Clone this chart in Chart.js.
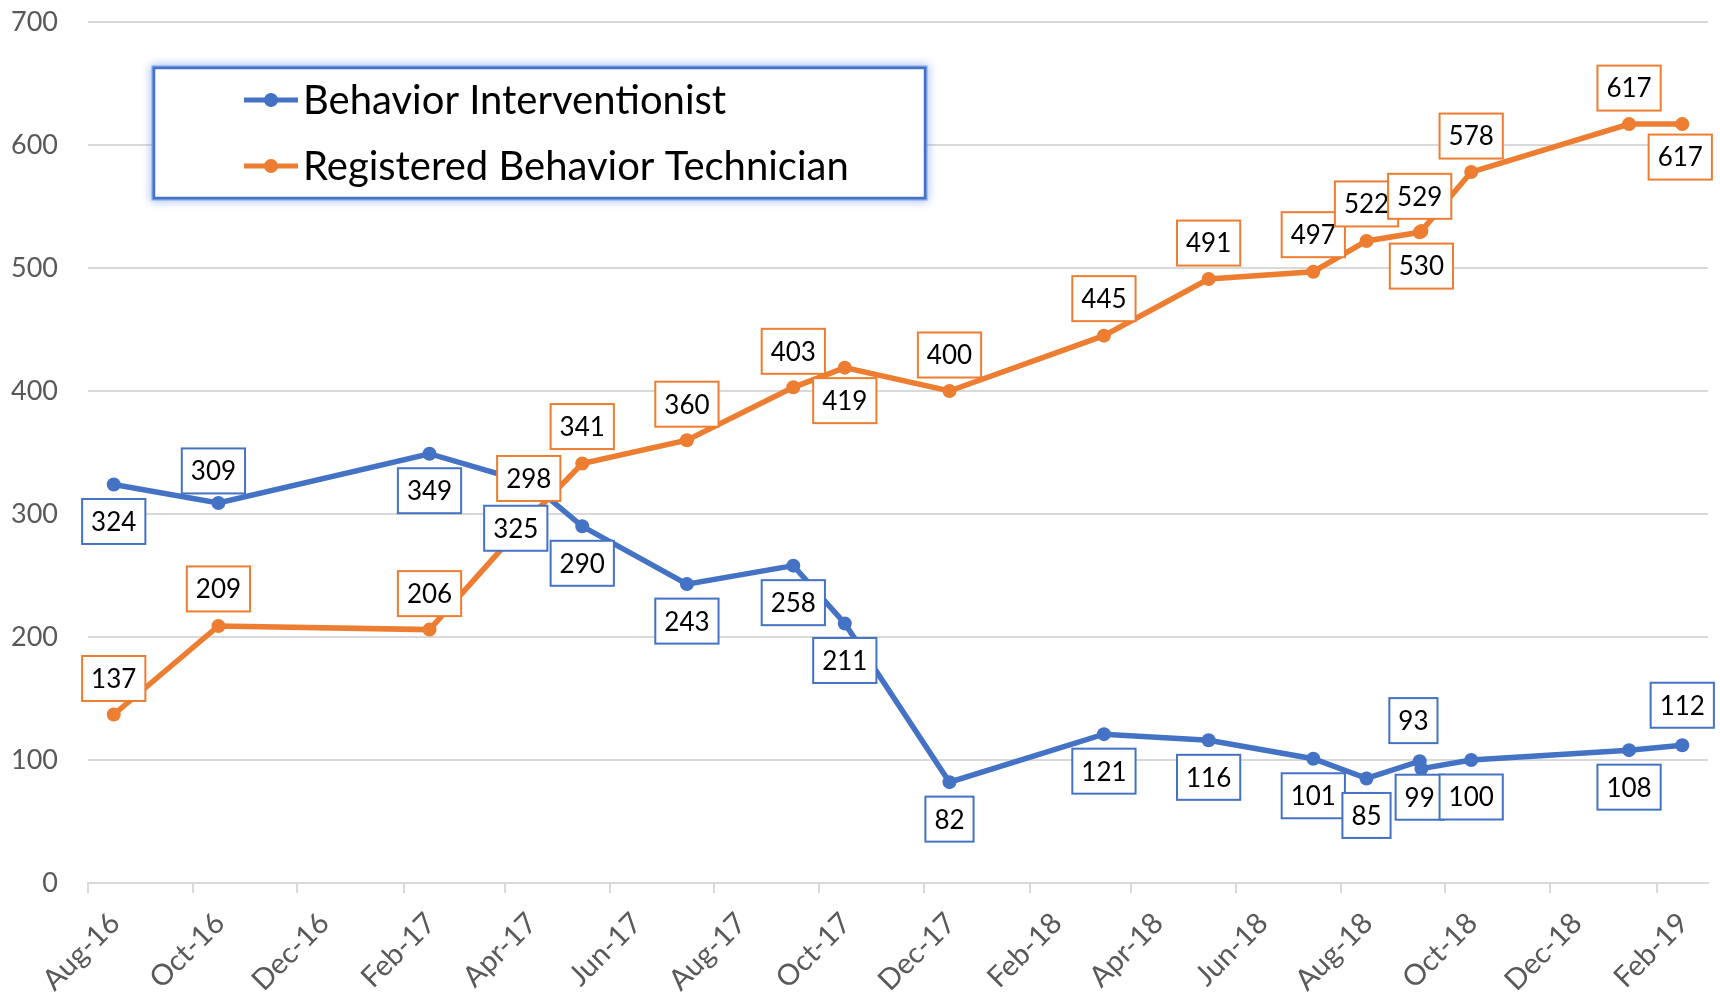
<!DOCTYPE html>
<html>
<head>
<meta charset="utf-8">
<script src="https://cdn.jsdelivr.net/npm/chart.js@4.4.0/dist/chart.umd.min.js"></script>
<style>
  html, body { margin: 0; padding: 0; background: #fff; }
  #wrap { width: 1720px; height: 995px; }
</style>
</head>
<body>
<div id="wrap"><canvas id="chart" width="1720" height="995"></canvas></div>
<script>
// observation dates (mid month), shared by both series
const dates = [
  '2016-08-16', '2016-10-16', '2017-02-16', '2017-04-16', '2017-05-16', '2017-07-16',
  '2017-09-16', '2017-10-16', '2017-12-16', '2018-03-16', '2018-05-16', '2018-07-16',
  '2018-08-16', '2018-09-16', '2018-09-17', '2018-10-16', '2019-01-16', '2019-02-16'
];
const interventionist = [324, 309, 349, 325, 290, 243, 258, 211, 82, 121, 116, 101, 85, 99, 93, 100, 108, 112];
const technician = [137, 209, 206, 298, 341, 360, 403, 419, 400, 445, 491, 497, 522, 529, 530, 578, 617, 617];
const tickLabels = [
  'Aug-16', 'Oct-16', 'Dec-16', 'Feb-17', 'Apr-17', 'Jun-17', 'Aug-17', 'Oct-17',
  'Dec-17', 'Feb-18', 'Apr-18', 'Jun-18', 'Aug-18', 'Oct-18', 'Dec-18', 'Feb-19'
];

// where each value box sits relative to its point (px)
const blueLabelOffsets = [
  [0, 37], [-5, -32], [0, 37], [-15, 45], [0, 37], [0, 37], [0, 37], [0, 37], [0, 37],
  [0, 37], [0, 37], [0, 37], [0, 37], [0, 36], [-8, -48], [0, 37], [0, 37], [0, -40]
];
const orangeLabelOffsets = [
  [0, -36], [0, -37], [0, -36], [-2, -38], [0, -37], [0, -36], [0, -36], [0, 33], [0, -36],
  [0, -37], [0, -36], [0, -37], [0, -37], [0, -36], [0, 35], [0, -36], [0, -36], [-2, 33]
];

const BLUE = '#4472C4';
const ORANGE = '#ED7D31';
const FONT = 'Lato';

const MONTHS = ['Jan', 'Feb', 'Mar', 'Apr', 'May', 'Jun', 'Jul', 'Aug', 'Sep', 'Oct', 'Nov', 'Dec'];
const startMs = Date.UTC(2016, 7, 1);
const DAY = 86400000;

function dayOf(dateStr) {
  return (Date.parse(dateStr) - startMs) / DAY;
}

function tickDay(label) {
  const [mon, yy] = label.split('-');
  return (Date.UTC(2000 + Number(yy), MONTHS.indexOf(mon), 1) - startMs) / DAY;
}

const days = dates.map(dayOf);
const tickDays = tickLabels.map(tickDay);

function toPoints(values) {
  return values.map((v, i) => ({ x: days[i], y: v }));
}

// legend box with a soft blue glow, drawn top-left inside the plot
const legendBox = {
  id: 'legendBox',
  afterDraw(chart) {
    const ctx = chart.ctx;
    const x = 154, y = 68, w = 771, h = 130;
    ctx.save();
    // glow only outside the box
    ctx.beginPath();
    ctx.rect(0, 0, chart.width, chart.height);
    ctx.rect(x, y, w, h);
    ctx.clip('evenodd');
    ctx.shadowColor = 'rgba(80, 130, 230, 0.9)';
    ctx.shadowBlur = 10;
    ctx.strokeStyle = 'rgba(110, 150, 230, 0.8)';
    ctx.lineWidth = 5;
    ctx.strokeRect(x, y, w, h);
    ctx.restore();

    ctx.save();
    ctx.fillStyle = '#fff';
    ctx.fillRect(x, y, w, h);
    ctx.strokeStyle = BLUE;
    ctx.lineWidth = 2.5;
    ctx.strokeRect(x, y, w, h);

    const rows = [100, 166];
    chart.data.datasets.forEach((ds, i) => {
      const cy = rows[i];
      ctx.strokeStyle = ds.borderColor;
      ctx.lineWidth = 5;
      ctx.beginPath();
      ctx.moveTo(244, cy);
      ctx.lineTo(298, cy);
      ctx.stroke();
      ctx.fillStyle = ds.borderColor;
      ctx.beginPath();
      ctx.arc(271, cy, 7, 0, Math.PI * 2);
      ctx.fill();
      ctx.fillStyle = '#000';
      ctx.font = '40px ' + FONT;
      ctx.textAlign = 'left';
      ctx.textBaseline = 'middle';
      ctx.fillText(ds.label, 303, cy + 1);
    });
    ctx.restore();
  }
};

// boxed value labels next to every point
const valueBoxes = {
  id: 'valueBoxes',
  afterDatasetsDraw(chart) {
    const ctx = chart.ctx;
    const offsets = [blueLabelOffsets, orangeLabelOffsets];
    ctx.save();
    ctx.font = '26px ' + FONT;
    ctx.textAlign = 'center';
    ctx.textBaseline = 'middle';
    chart.data.datasets.forEach((ds, di) => {
      const meta = chart.getDatasetMeta(di);
      meta.data.forEach((pt, i) => {
        const text = String(ds.data[i].y);
        const [dx, dy] = offsets[di][i];
        const cx = pt.x + dx;
        const cy = pt.y + dy;
        const bw = ctx.measureText(text).width + 18;
        const bh = 45;
        ctx.fillStyle = '#fff';
        ctx.fillRect(cx - bw / 2, cy - bh / 2, bw, bh);
        ctx.strokeStyle = ds.borderColor;
        ctx.lineWidth = 2;
        ctx.strokeRect(cx - bw / 2, cy - bh / 2, bw, bh);
        ctx.fillStyle = '#000';
        ctx.fillText(text, cx, cy + 1);
      });
    });
    ctx.restore();
  }
};

const lineStyle = {
  borderWidth: 5.5,
  pointRadius: 7,
  pointBorderWidth: 0,
  pointHoverRadius: 7,
  tension: 0
};

new Chart(document.getElementById('chart'), {
  type: 'line',
  data: {
    datasets: [
      Object.assign({
        label: 'Behavior Interventionist',
        data: toPoints(interventionist),
        borderColor: BLUE,
        backgroundColor: BLUE,
        pointBackgroundColor: BLUE
      }, lineStyle),
      Object.assign({
        label: 'Registered Behavior Technician',
        data: toPoints(technician),
        borderColor: ORANGE,
        backgroundColor: ORANGE,
        pointBackgroundColor: ORANGE
      }, lineStyle)
    ]
  },
  options: {
    responsive: false,
    animation: false,
    devicePixelRatio: 1,
    layout: { padding: { left: 0, top: 22, right: 12, bottom: 0 } },
    plugins: {
      legend: { display: false },
      tooltip: { enabled: false }
    },
    scales: {
      x: {
        type: 'linear',
        min: 0,
        max: 944,
        afterBuildTicks: (scale) => {
          scale.ticks = tickDays.map((v) => ({ value: v }));
        },
        afterFit: (scale) => {
          scale.height = 112;
          scale.paddingLeft = 0;
          scale.paddingRight = 0;
          scale.paddingTop = 0;
          scale.paddingBottom = 0;
        },
        grid: {
          drawOnChartArea: false,
          drawTicks: true,
          tickLength: 10,
          color: '#d9d9d9',
          lineWidth: 2
        },
        border: { color: '#d9d9d9', width: 2 },
        ticks: {
          autoSkip: false,
          minRotation: 45,
          maxRotation: 45,
          labelOffset: 27,
          padding: 13,
          color: '#595959',
          font: { family: FONT, size: 29 },
          callback: (value, index) => tickLabels[index]
        }
      },
      y: {
        min: 0,
        max: 700,
        afterFit: (scale) => {
          scale.width = 88;
          scale.paddingTop = 0;
          scale.paddingBottom = 0;
        },
        grid: {
          color: '#d9d9d9',
          lineWidth: 2,
          drawTicks: false
        },
        border: { display: false },
        ticks: {
          stepSize: 100,
          padding: 30,
          color: '#595959',
          font: { family: FONT, size: 27 }
        }
      }
    }
  },
  plugins: [legendBox, valueBoxes]
});
</script>
</body>
</html>
